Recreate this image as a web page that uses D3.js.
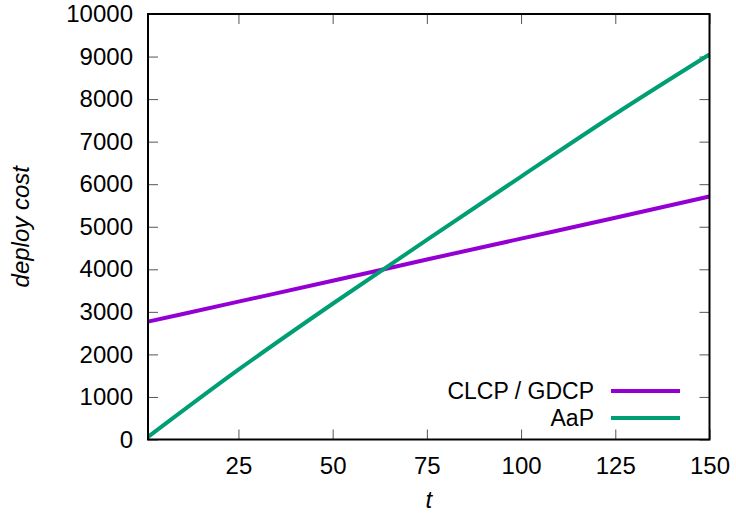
<!DOCTYPE html>
<html>
<head>
<meta charset="utf-8">
<script src="https://cdn.jsdelivr.net/npm/d3@7"></script>
<style>
  body { margin: 0; background: #fff; }
  svg text { font-family: "Liberation Sans", Arial, sans-serif; }
</style>
</head>
<body>
<svg id="drawing_region"></svg>
<script>
// values
const tValues = [1, 25, 50, 75, 100, 125, 150];
const clcpCost = [2770, 3240, 3730, 4230, 4720, 5210, 5710];
const aapCost = [60, 1640, 3190, 4690, 6180, 7650, 9050];
const seriesNames = ["CLCP / GDCP", "AaP"];
const seriesColors = ["#9400d3", "#009e73"];
const xTicks = [25, 50, 75, 100, 125, 150];
const yTicks = [0, 1000, 2000, 3000, 4000, 5000, 6000, 7000, 8000, 9000, 10000];

const config = {
    width: 736,
    height: 516,
    margin: { top: 14, right: 26.5, bottom: 76.5, left: 148 }
};

const svg = d3.select('#drawing_region')
    .attr('width', config.width)
    .attr('height', config.height);

const inner_width = config.width - config.margin.left - config.margin.right;
const inner_height = config.height - config.margin.top - config.margin.bottom;

const chart = svg.append('g')
    .attr('transform', `translate(${config.margin.left}, ${config.margin.top})`);

const xScale = d3.scaleLinear().domain([1, 150]).range([0, inner_width]);
const yScale = d3.scaleLinear().domain([0, 10000]).range([inner_height, 0]);

// axes with inward ticks (plus mirrored ones on top / right)
const xAxis = chart.append('g')
    .attr('transform', `translate(0, ${inner_height})`)
    .call(d3.axisBottom(xScale).tickValues(xTicks).tickSize(-10).tickPadding(17.5).tickFormat(d3.format('d')));
const yAxis = chart.append('g')
    .call(d3.axisLeft(yScale).tickValues(yTicks).tickSize(-10).tickPadding(15).tickFormat(d3.format('d')));
const xTop = chart.append('g')
    .call(d3.axisTop(xScale).tickValues(xTicks).tickSize(-10).tickFormat(''));
const yRight = chart.append('g')
    .attr('transform', `translate(${inner_width}, 0)`)
    .call(d3.axisRight(yScale).tickValues(yTicks).tickSize(-10).tickFormat(''));

[xAxis, yAxis, xTop, yRight].forEach(a => {
    a.select('.domain').remove();
    a.selectAll('line').attr('stroke', '#555').attr('stroke-width', 1);
    a.selectAll('text')
        .style('font-size', '24px')
        .attr('fill', '#000');
});

// data lines
const line = d3.line()
    .curve(d3.curveMonotoneX)
    .x(d => xScale(d.t))
    .y(d => yScale(d.v));

const series = [clcpCost, aapCost].map((vals, i) => ({
    name: seriesNames[i],
    color: seriesColors[i],
    points: tValues.map((t, j) => ({ t: t, v: vals[j] }))
}));

chart.append('g')
    .selectAll('path')
    .data(series)
    .enter()
    .append('path')
    .attr('d', d => line(d.points))
    .attr('fill', 'none')
    .attr('stroke', d => d.color)
    .attr('stroke-width', 4);

// border
chart.append('rect')
    .attr('width', inner_width)
    .attr('height', inner_height)
    .attr('fill', 'none')
    .attr('stroke', '#000')
    .attr('stroke-width', 2);

// legend
const legend = svg.append('g');
series.forEach((s, i) => {
    const y = 391 + i * 27;
    legend.append('text')
        .attr('x', 594)
        .attr('y', y)
        .attr('dy', '0.35em')
        .attr('text-anchor', 'end')
        .style('font-size', '23px')
        .text(s.name);
    legend.append('line')
        .attr('x1', 611)
        .attr('x2', 680)
        .attr('y1', y)
        .attr('y2', y)
        .attr('stroke', s.color)
        .attr('stroke-width', 4);
});

// axis titles
svg.append('text')
    .attr('transform', `translate(29, ${config.margin.top + inner_height / 2}) rotate(-90)`)
    .attr('text-anchor', 'middle')
    .style('font-size', '24px')
    .style('font-style', 'italic')
    .text('deploy cost');

svg.append('text')
    .attr('x', config.margin.left + inner_width / 2)
    .attr('y', 508)
    .attr('text-anchor', 'middle')
    .style('font-size', '24px')
    .style('font-style', 'italic')
    .text('t');
</script>
</body>
</html>
